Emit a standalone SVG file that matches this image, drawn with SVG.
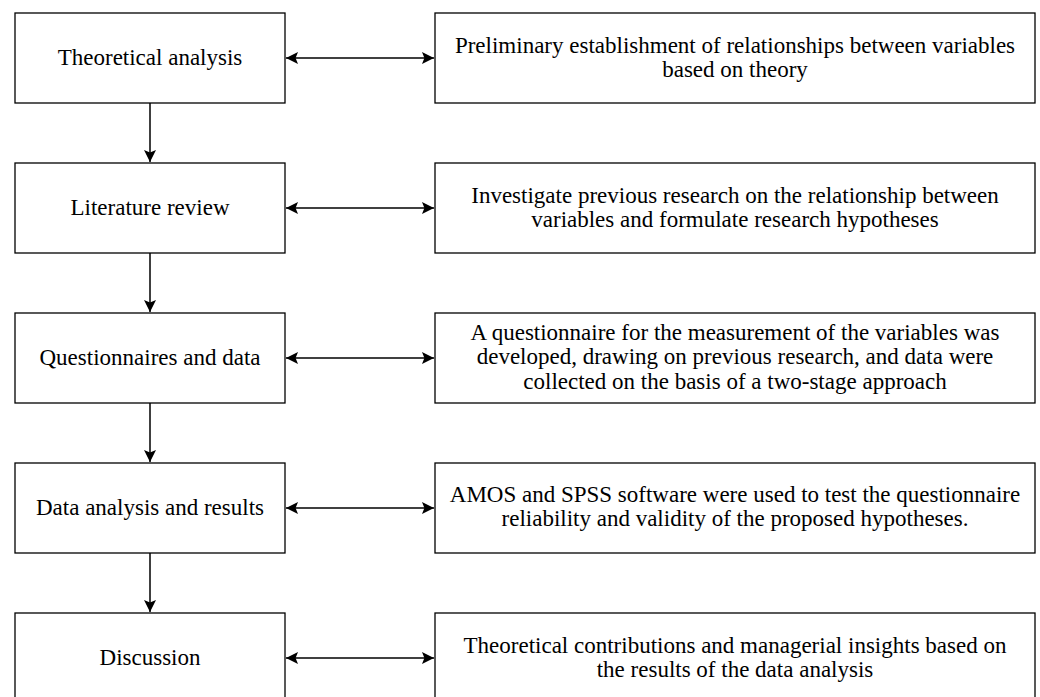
<svg xmlns="http://www.w3.org/2000/svg" width="1040" height="697" viewBox="0 0 1040 697">
<defs>
<style>
.box{fill:#fff;stroke:#000;stroke-width:1.3}
.t{font-family:"Liberation Serif","DejaVu Serif",serif;font-size:23px;fill:#000;text-anchor:middle}
.c{stroke:#000;stroke-width:1.5;fill:none}
</style>
<marker id="ah" viewBox="0 0 10 10" refX="10" refY="5" markerWidth="12" markerHeight="12" markerUnits="userSpaceOnUse" orient="auto-start-reverse">
<path d="M0,0 L10,5 L0,10 L2,5 Z" fill="#000"/>
</marker>
</defs>
<rect width="1040" height="697" fill="#fff"/>
<g id="connectors">
<line class="c" x1="150" y1="103" x2="150" y2="162" marker-end="url(#ah)"/>
<line class="c" x1="150" y1="253" x2="150" y2="312" marker-end="url(#ah)"/>
<line class="c" x1="150" y1="403" x2="150" y2="462" marker-end="url(#ah)"/>
<line class="c" x1="150" y1="553" x2="150" y2="612" marker-end="url(#ah)"/>
<line class="c" x1="286" y1="58" x2="434" y2="58" marker-start="url(#ah)" marker-end="url(#ah)"/>
<line class="c" x1="286" y1="208" x2="434" y2="208" marker-start="url(#ah)" marker-end="url(#ah)"/>
<line class="c" x1="286" y1="358" x2="434" y2="358" marker-start="url(#ah)" marker-end="url(#ah)"/>
<line class="c" x1="286" y1="508" x2="434" y2="508" marker-start="url(#ah)" marker-end="url(#ah)"/>
<line class="c" x1="286" y1="658" x2="434" y2="658" marker-start="url(#ah)" marker-end="url(#ah)"/>
</g>
<g id="n1"><rect class="box" x="15" y="13" width="270" height="90"/><text class="t" x="150" y="65">Theoretical analysis</text></g>
<g id="n2"><rect class="box" x="15" y="163" width="270" height="90"/><text class="t" x="150" y="215">Literature review</text></g>
<g id="n3"><rect class="box" x="15" y="313" width="270" height="90"/><text class="t" x="150" y="365">Questionnaires and data</text></g>
<g id="n4"><rect class="box" x="15" y="463" width="270" height="90"/><text class="t" x="150" y="515">Data analysis and results</text></g>
<g id="n5"><rect class="box" x="15" y="613" width="270" height="90"/><text class="t" x="150" y="665">Discussion</text></g>
<g id="r1"><rect class="box" x="435" y="13" width="600" height="90"/><text class="t" x="735" y="53">Preliminary establishment of relationships between variables</text><text class="t" x="735" y="77">based on theory</text></g>
<g id="r2"><rect class="box" x="435" y="163" width="600" height="90"/><text class="t" x="735" y="203">Investigate previous research on the relationship between</text><text class="t" x="735" y="227">variables and formulate research hypotheses</text></g>
<g id="r3"><rect class="box" x="435" y="313" width="600" height="90"/><text class="t" x="735" y="340">A questionnaire for the measurement of the variables was</text><text class="t" x="735" y="364">developed, drawing on previous research, and data were</text><text class="t" x="735" y="389">collected on the basis of a two-stage approach</text></g>
<g id="r4"><rect class="box" x="435" y="463" width="600" height="90"/><text class="t" x="735" y="502">AMOS and SPSS software were used to test the questionnaire</text><text class="t" x="735" y="526">reliability and validity of the proposed hypotheses.</text></g>
<g id="r5"><rect class="box" x="435" y="613" width="600" height="90"/><text class="t" x="735" y="653">Theoretical contributions and managerial insights based on</text><text class="t" x="735" y="677">the results of the data analysis</text></g>
</svg>
